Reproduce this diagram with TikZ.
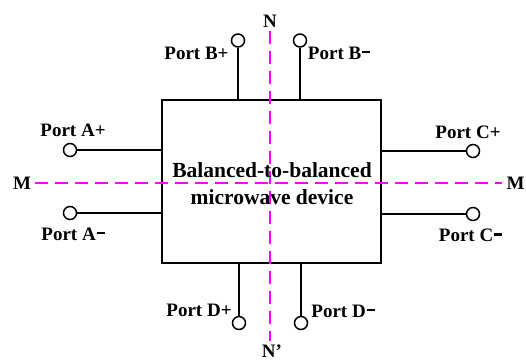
\documentclass[tikz,border=0pt]{standalone}
\usepackage{fontspec}
\setmainfont{Liberation Serif}
\newcommand\bminus{\kern0.8pt\rule[6.2pt]{8pt}{2.4pt}}
\begin{document}
\begin{tikzpicture}[x=1pt,y=-1pt,
  wire/.style={line width=1.5pt,black},
  term/.style={circle,draw=black,line width=1.5pt,fill=white,minimum size=13pt,inner sep=0pt},
  lbl/.style={font=\fontsize{19}{22}\selectfont\bfseries,inner sep=0pt,text height=12.6pt,text depth=0pt},
  sym/.style={draw=magenta,line width=1.8pt,dash pattern=on 13pt off 7pt},
  devtext/.style={font=\fontsize{21.5}{27}\selectfont\bfseries,align=center,inner sep=0pt}
]
\useasboundingbox (0,0) rectangle (526,360);
\definecolor{magenta}{RGB}{255,0,255}
% device box
\node[draw=black,line width=1.5pt,minimum width=219pt,minimum height=163pt,inner sep=0pt] (dev) at (271.5,181.5) {};
% symmetry line anchors
\coordinate (mL) at (35,183);
\coordinate (mR) at (502,183);
\coordinate (nT) at (270,31);
\coordinate (nB) at (270,341);
\draw[sym] (mL) -- (mR);
\draw[sym] (nT) -- (nB);
\node[devtext] (devlbl) at (272,184) {Balanced-to-balanced\\microwave device};
% stems attach points
\coordinate (aP) at (162,150);
\coordinate (aM) at (162,213);
\coordinate (cP) at (381,151);
\coordinate (cM) at (381,214);
\coordinate (bP) at (238,100);
\coordinate (bM) at (300,100);
\coordinate (dP) at (239,263);
\coordinate (dM) at (301,263);
% terminals
\node[term] (tAP) at (70,150) {};
\node[term] (tAM) at (70,213) {};
\node[term] (tCP) at (473,151) {};
\node[term] (tCM) at (473,214) {};
\node[term] (tBP) at (238,40.5) {};
\node[term] (tBM) at (300,40.5) {};
\node[term] (tDP) at (239,323) {};
\node[term] (tDM) at (301,323) {};
\draw[wire] (tAP) -- (aP);
\draw[wire] (tAM) -- (aM);
\draw[wire] (tCP) -- (cP);
\draw[wire] (tCM) -- (cM);
\draw[wire] (tBP) -- (bP);
\draw[wire] (tBM) -- (bM);
\draw[wire] (tDP) -- (dP);
\draw[wire] (tDM) -- (dM);
% labels
\node[lbl] (lAP) at (73,130) {Port A+};
\node[lbl] (lAM) at (73,234) {Port A\bminus};
\node[lbl] (lCP) at (468,132.5) {Port C+};
\node[lbl] (lCM) at (470.5,235.5) {Port C\bminus};
\node[lbl] (lBP) at (196.5,53) {Port B+};
\node[lbl] (lBM) at (339,53) {Port B\bminus};
\node[lbl] (lDP) at (199,310) {Port D+};
\node[lbl] (lDM) at (343,311) {Port D\bminus};
\node[lbl] (lN) at (270,21) {N};
\node[lbl] (lNp) at (272,351) {N’};
\node[lbl] (lML) at (22,183) {M};
\node[lbl] (lMR) at (515.5,183) {M};
\end{tikzpicture}
\end{document}
